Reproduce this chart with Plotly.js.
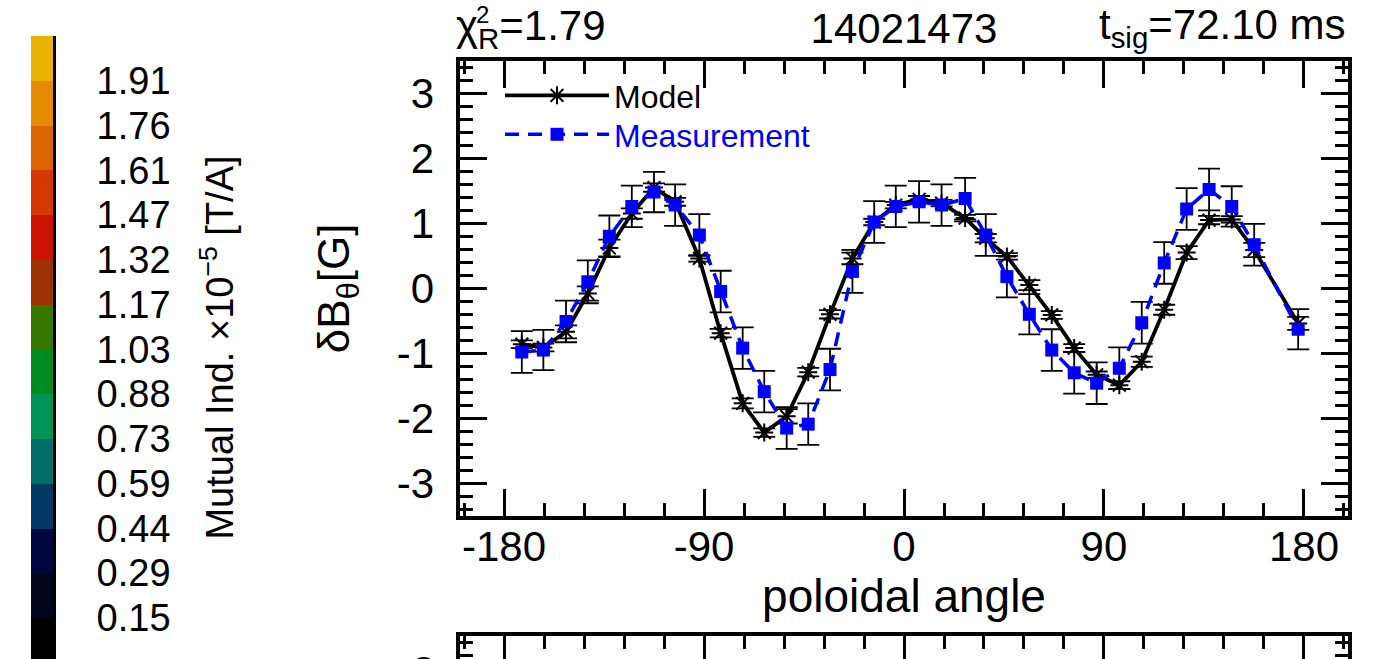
<!DOCTYPE html>
<html><head><meta charset="utf-8">
<script src="https://cdn.plot.ly/plotly-3.0.1.min.js"></script>
<style>html,body{margin:0;padding:0;background:#fff;overflow:hidden}#chart{width:1398px;height:659px}</style>
</head><body><div id="chart"></div>
<script>
// poloidal angle of each probe (deg)
const angle = [-172.0,-162.3,-152.1,-142.3,-132.6,-122.5,-112.5,-103.0,-92.1,-82.5,-72.6,-62.9,-52.8,-43.1,-33.3,-23.2,-13.4,-3.7,6.8,16.9,27.5,36.8,46.3,56.4,66.5,76.6,86.7,96.9,107.0,117.1,127.2,137.3,147.5,157.6,177.4];
// measured dB_theta [G]
const measurement = [-0.98,-0.95,-0.51,0.10,0.80,1.26,1.48,1.28,0.82,-0.05,-0.92,-1.59,-2.15,-2.09,-1.25,0.26,1.02,1.26,1.33,1.28,1.38,0.82,0.18,-0.40,-0.95,-1.30,-1.46,-1.23,-0.53,0.39,1.22,1.52,1.26,0.67,-0.63];
const measurementErr = [0.32,0.31,0.32,0.33,0.32,0.32,0.31,0.32,0.32,0.32,0.32,0.32,0.32,0.32,0.32,0.33,0.32,0.32,0.32,0.32,0.32,0.32,0.32,0.31,0.32,0.32,0.32,0.32,0.32,0.32,0.32,0.32,0.31,0.32,0.31];
// model dB_theta [G]
const model = [-0.86,-0.91,-0.67,-0.08,0.62,1.15,1.55,1.33,0.46,-0.69,-1.77,-2.22,-1.97,-1.29,-0.40,0.46,1.02,1.28,1.37,1.31,1.08,0.77,0.49,0.05,-0.41,-0.92,-1.33,-1.49,-1.13,-0.33,0.55,1.05,1.06,0.59,-0.54];
const modelErr = [0.06,0.06,0.10,0.11,0.13,0.08,0.065,0.06,0.05,0.065,0.077,0.065,0.11,0.065,0.065,0.09,0.05,0.05,0.05,0.05,0.05,0.065,0.05,0.077,0.06,0.06,0.05,0.06,0.08,0.077,0.10,0.065,0.05,0.11,0.10];

// colour bar (Mutual Ind. x1e-5 T/A)
const cbLevels = [0,0.1468,0.2936,0.4404,0.5872,0.734,0.8808,1.0276,1.1744,1.3212,1.468,1.6148,1.7616,1.9084,2.0552];
const cbColors = ['#000000','#00041c','#000740','#003a64','#006e68','#009457','#008c20','#367700','#9a3300','#cc1200','#d23a00','#db6300','#e58b00','#ebb100'];
const cbTickLabels = ['0.15','0.29','0.44','0.59','0.73','0.88','1.03','1.17','1.32','1.47','1.61','1.76','1.91'];

const xTickVals = [-180,-90,0,90,180];
const xTickText = ['-180','-90','0','90','180'];
const yTickVals = [-3,-2,-1,0,1,2,3];
const yTickText = ['-3','-2','-1','0','1','2','3'];

const FONT = 'Liberation Sans, Arial, Helvetica, sans-serif';
const W = 1398, H = 659;

// discrete colour scale built from cbColors
const n = cbColors.length;
const cscale = [];
cbColors.forEach((c, i) => { cscale.push([i / n, c]); cscale.push([(i + 1) / n, c]); });
const zCol = cbColors.map((c, i) => [i + 0.5]);

const traces = [
  {
    x: angle, y: model, type: 'scatter', mode: 'lines+markers', name: 'Model', legend: 'legend',
    line: {color: '#000', width: 3.8},
    marker: {symbol: 'asterisk-open', size: 15, color: '#000', line: {color: '#000', width: 2}},
    error_y: {type: 'data', array: modelErr, visible: true, color: '#000', thickness: 1.8, width: 11},
    xaxis: 'x', yaxis: 'y', hoverinfo: 'skip'
  },
  {
    x: angle, y: measurement, type: 'scatter', mode: 'lines+markers', legend: 'legend2',
    name: '<span style="color:#0000ff">Measurement</span>',
    line: {color: '#0000ff', width: 3.5, dash: '14px,9px'},
    marker: {symbol: 'square', size: 13, color: '#0000ff'},
    error_y: {type: 'data', array: measurementErr, visible: true, color: '#000', thickness: 1.8, width: 11},
    xaxis: 'x', yaxis: 'y', hoverinfo: 'skip'
  },
  {
    type: 'heatmap', x: [0], y: cbLevels, z: zCol, zmin: 0, zmax: n,
    colorscale: cscale, showscale: false, xaxis: 'x2', yaxis: 'y2', hoverinfo: 'skip', showlegend: false
  },
  { // empty trace so the lower (cut-off) panel frame is drawn
    type: 'scatter', x: [], y: [], xaxis: 'x3', yaxis: 'y3', showlegend: false, hoverinfo: 'skip'
  }
];

const xDom = [459.6 / W, 1348.4 / W];
const yDom = [(H - 515.8) / H, (H - 60.8) / H];

const baseTickFont = {family: FONT, size: 42, color: '#000'};
const legendBase = {xanchor: 'left', yanchor: 'top', bgcolor: 'rgba(0,0,0,0)',
  font: {family: FONT, size: 32, color: '#000'}, itemwidth: 104, tracegroupgap: 0, borderwidth: 0};

const layout = {
  width: W, height: H,
  margin: {l: 0, r: 0, t: 0, b: 0},
  paper_bgcolor: '#fff', plot_bgcolor: 'rgba(0,0,0,0)',
  font: {family: FONT, color: '#000'},
  showlegend: true,
  title: {text: '14021473', font: {family: FONT, size: 42, color: '#000'},
          x: 904 / W, xanchor: 'center', xref: 'paper', y: 1 - 28 / H, yanchor: 'middle', yref: 'container'},
  legend: Object.assign({x: 500 / W, y: 1 - 68 / H}, legendBase),
  legend2: Object.assign({x: 500 / W, y: 1 - 107 / H}, legendBase),
  xaxis: {
    domain: xDom, range: [-200, 200], anchor: 'y',
    tickmode: 'array', tickvals: xTickVals, ticktext: xTickText,
    ticks: 'inside', ticklen: 27, tickwidth: 3, tickcolor: '#000',
    minor: {tickmode: 'linear', tick0: 0, dtick: 18, ticks: 'inside', ticklen: 13, tickwidth: 3, tickcolor: '#000'},
    showline: true, linewidth: 4, linecolor: '#000', mirror: 'allticks',
    showgrid: false, zeroline: false, tickfont: baseTickFont, ticklabelstandoff: -9,
    title: {text: 'poloidal angle', font: {family: FONT, size: 46, color: '#000'}, standoff: 6}
  },
  yaxis: {
    domain: yDom, range: [-3.5, 3.5], anchor: 'x',
    tickmode: 'array', tickvals: yTickVals, ticktext: yTickText,
    ticks: 'inside', ticklen: 27, tickwidth: 3, tickcolor: '#000',
    minor: {tickmode: 'linear', tick0: 0, dtick: 0.2, ticks: 'inside', ticklen: 13, tickwidth: 3, tickcolor: '#000'},
    showline: true, linewidth: 4, linecolor: '#000', mirror: 'allticks',
    showgrid: false, zeroline: false, tickfont: baseTickFont, ticklabelstandoff: 13,
    title: {text: 'δB<sub>θ</sub>[G]', font: {family: FONT, size: 44, color: '#000'}, standoff: 34}
  },
  xaxis2: {domain: [31 / W, 53 / W], range: [-0.5, 0.5], anchor: 'y2', visible: false, fixedrange: true},
  yaxis2: {
    domain: [0, (H - 36) / H], range: [0.012, 2.0552], anchor: 'x2', side: 'right',
    tickmode: 'array', tickvals: cbLevels.slice(1, 14), ticktext: cbTickLabels,
    ticks: '', showline: true, linewidth: 3, linecolor: '#000', showgrid: false, zeroline: false,
    tickfont: {family: FONT, size: 38, color: '#000'}, ticklabelstandoff: 33,
    title: {text: 'Mutual Ind. ×10<sup>−5</sup> [T/A]', font: {family: FONT, size: 38, color: '#000'}, standoff: 37}
  },
  xaxis3: {
    domain: xDom, range: [-200, 200], anchor: 'y3', side: 'top',
    tickmode: 'array', tickvals: xTickVals, ticktext: xTickText, showticklabels: false,
    ticks: 'inside', ticklen: 27, tickwidth: 3, tickcolor: '#000',
    minor: {tickmode: 'linear', tick0: 0, dtick: 18, ticks: 'inside', ticklen: 13, tickwidth: 3, tickcolor: '#000'},
    showline: true, linewidth: 4, linecolor: '#000', mirror: false, showgrid: false, zeroline: false
  },
  yaxis3: {
    domain: [0, (H - 636) / H], range: [3.146, 3.5], anchor: 'x3',
    tickmode: 'array', tickvals: yTickVals, ticktext: yTickText, showticklabels: false,
    ticks: 'inside', ticklen: 27, tickwidth: 3, tickcolor: '#000',
    minor: {tickmode: 'linear', tick0: 0, dtick: 0.2, ticks: 'inside', ticklen: 13, tickwidth: 3, tickcolor: '#000'},
    showline: true, linewidth: 4, linecolor: '#000', mirror: 'allticks', showgrid: false, zeroline: false
  },
  annotations: [
    {text: 'χ<sub>R</sub>=1.79', xref: 'paper', yref: 'paper', x: 454 / W, y: 1 - 29 / H,
     xanchor: 'left', yanchor: 'middle', showarrow: false, font: {family: FONT, size: 42, color: '#000'}},
    {text: '2', xref: 'paper', yref: 'paper', x: 474 / W, y: 1 - 15 / H,
     xanchor: 'left', yanchor: 'middle', showarrow: false, font: {family: FONT, size: 24, color: '#000'}},
    {text: 't<sub>sig</sub>=72.10 ms', xref: 'paper', yref: 'paper', x: 1348 / W, y: 1 - 28 / H,
     xanchor: 'right', yanchor: 'middle', showarrow: false, font: {family: FONT, size: 42, color: '#000'}},
    {text: '3', xref: 'paper', yref: 'paper', x: 437 / W, y: -12 / H,
     xanchor: 'right', yanchor: 'middle', showarrow: false, font: {family: FONT, size: 42, color: '#000'}}
  ]
};

Plotly.newPlot('chart', traces, layout, {staticPlot: true, displayModeBar: false});
</script></body></html>
